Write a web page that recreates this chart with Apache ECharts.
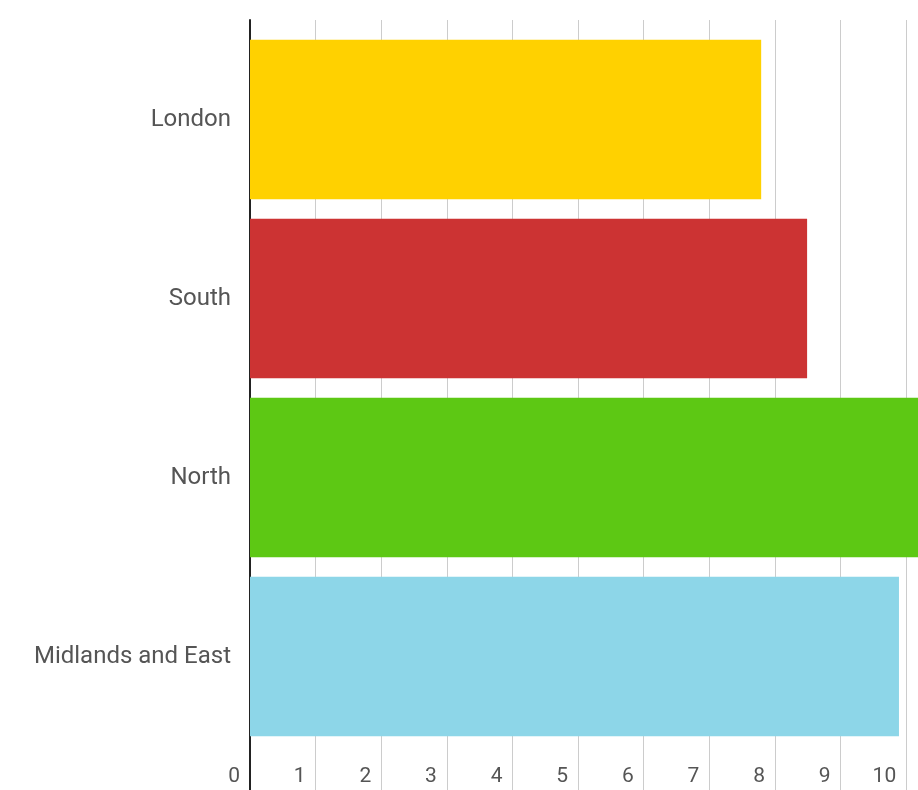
<!DOCTYPE html>
<html>
<head>
<meta charset="utf-8">
<script src="https://cdn.jsdelivr.net/npm/echarts@6/dist/echarts.min.js"></script>
<style>html,body{margin:0;padding:0;background:#fff}#c{width:918px;height:790px}</style>
</head>
<body>
<div id="c"></div>
<script>
const categories = ['London', 'South', 'North', 'Midlands and East'];
const values = [7.79, 8.49, 10.9, 9.89];
const xTicks = [0, 1, 2, 3, 4, 5, 6, 7, 8, 9, 10];

const palette = ['#FFD100', '#CC3333', '#5DC814', '#8DD6E8'];
const X_MAX = 10.18;

const chart = echarts.init(document.getElementById('c'), null, {renderer: 'canvas'});
chart.setOption({
  animation: false,
  backgroundColor: '#fff',
  grid: [
    {left: 250, top: 20, bottom: 0, right: 0, containLabel: false},
    {left: 250, top: 30, height: 716, right: 0, containLabel: false}
  ],
  xAxis: [
    {
      gridIndex: 0, type: 'value', min: 0, max: X_MAX, interval: 1, position: 'bottom',
      axisLine: {show: false}, axisTick: {show: false},
      splitLine: {show: true, lineStyle: {color: '#cccccc', width: 1}},
      axisLabel: {
        inside: true, margin: 3, align: 'right', padding: [0, 10, 0, 0],
        color: '#555', fontSize: 21, fontFamily: 'Roboto',
        showMaxLabel: false,
        formatter: v => (xTicks.indexOf(v) >= 0 ? String(v) : '')
      }
    },
    {
      gridIndex: 1, type: 'value', min: 0, max: X_MAX, interval: 1, show: false
    }
  ],
  yAxis: [
    {
      gridIndex: 0, type: 'value', min: 0, max: 1,
      axisLine: {show: true, onZero: false, lineStyle: {color: '#222', width: 2}},
      axisTick: {show: false}, axisLabel: {show: false}, splitLine: {show: false}
    },
    {
      gridIndex: 1, type: 'category', inverse: true, data: categories,
      axisLine: {show: false}, axisTick: {show: false}, splitLine: {show: false},
      axisLabel: {margin: 19, color: '#555', fontSize: 24, fontFamily: 'Roboto'}
    }
  ],
  series: [{
    type: 'bar', xAxisIndex: 1, yAxisIndex: 1,
    barCategoryGap: '11%',
    data: values.map((v, i) => ({value: v, itemStyle: {color: palette[i]}}))
  }]
});
</script>
</body>
</html>
